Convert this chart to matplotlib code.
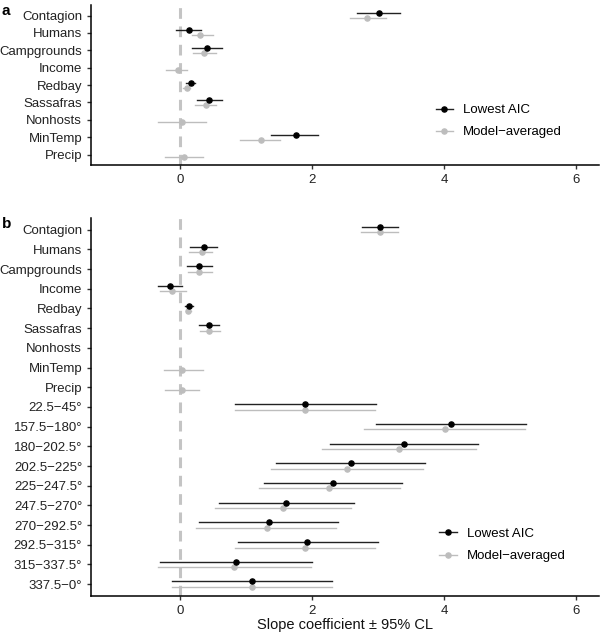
import numpy as np
import matplotlib
matplotlib.use('Agg')
import matplotlib.pyplot as plt
from matplotlib.lines import Line2D

plt.rcParams['font.family'] = ['Liberation Sans', 'DejaVu Sans']

nan = np.nan

# panel a: covariates only
vars_a = ['Contagion', 'Humans', 'Campgrounds', 'Income', 'Redbay',
          'Sassafras', 'Nonhosts', 'MinTemp', 'Precip']
aic_a = [3.01, 0.13, 0.40, nan, 0.16, 0.44, nan, 1.75, nan]
aic_a_lo = [2.68, -0.07, 0.18, nan, 0.09, 0.25, nan, 1.38, nan]
aic_a_hi = [3.34, 0.32, 0.63, nan, 0.23, 0.64, nan, 2.09, nan]
avg_a = [2.84, 0.30, 0.36, -0.035, 0.10, 0.39, 0.025, 1.22, 0.065]
avg_a_lo = [2.58, 0.18, 0.20, -0.22, 0.05, 0.23, -0.34, 0.91, -0.23]
avg_a_hi = [3.12, 0.50, 0.55, 0.10, 0.15, 0.54, 0.39, 1.52, 0.35]

# panel b: covariates plus wind direction sectors
vars_b = vars_a + ['22.5−45°', '157.5−180°', '180−202.5°', '202.5−225°',
                   '225−247.5°', '247.5−270°', '270−292.5°', '292.5−315°',
                   '315−337.5°', '337.5−0°']
aic_b = [3.03, 0.36, 0.29, -0.16, 0.14, 0.44, nan, nan, nan,
         1.90, 4.11, 3.40, 2.59, 2.32, 1.61, 1.34, 1.93, 0.85, 1.09]
aic_b_lo = [2.76, 0.15, 0.10, -0.34, 0.075, 0.28, nan, nan, nan,
            0.83, 2.97, 2.27, 1.46, 1.27, 0.59, 0.29, 0.87, -0.30, -0.12]
aic_b_hi = [3.31, 0.56, 0.48, 0.03, 0.19, 0.59, nan, nan, nan,
            2.97, 5.24, 4.52, 3.72, 3.37, 2.63, 2.40, 3.00, 2.00, 2.30]
avg_b = [3.03, 0.33, 0.29, -0.12, 0.125, 0.44, nan, 0.025, 0.025,
         1.90, 4.01, 3.32, 2.53, 2.25, 1.56, 1.31, 1.89, 0.82, 1.09]
avg_b_lo = [2.75, 0.13, 0.12, -0.31, 0.09, 0.30, nan, -0.25, -0.23,
            0.83, 2.79, 2.15, 1.38, 1.19, 0.53, 0.24, 0.83, -0.34, -0.12]
avg_b_hi = [3.31, 0.48, 0.48, 0.09, 0.17, 0.60, nan, 0.35, 0.29,
            2.96, 5.23, 4.49, 3.69, 3.33, 2.59, 2.37, 2.95, 1.99, 2.31]

BLACK = '#000000'
BLACK_LINE = '#222222'
GREY = '#bdbdbd'
MS = 3.7


def draw_panel(ax, labels, est1, lo1, hi1, est2, lo2, hi2, legend_xy):
    n = len(labels)
    y = np.arange(n)
    dodge = 0.14
    ax.axvline(0, color='#c4c4c4', lw=2.2, ls=(0, (3.5, 2.5)), zorder=0)
    for yy, e, l, h in zip(y + dodge, est2, lo2, hi2):
        if not np.isnan(e):
            ax.plot([l, h], [yy, yy], color=GREY, lw=1.0, zorder=1)
            ax.plot(e, yy, 'o', color=GREY, ms=MS, zorder=2)
    for yy, e, l, h in zip(y - dodge, est1, lo1, hi1):
        if not np.isnan(e):
            ax.plot([l, h], [yy, yy], color=BLACK_LINE, lw=1.0, zorder=3)
            ax.plot(e, yy, 'o', color=BLACK, ms=MS, zorder=4)
    ax.set_yticks(y)
    ax.set_yticklabels(labels)
    ax.set_ylim(n - 1 + 0.6, -0.6)
    ax.set_xlim(-1.35, 6.35)
    ax.set_xticks([0, 2, 4, 6])
    for s in ['top', 'right']:
        ax.spines[s].set_visible(False)
    for s in ['left', 'bottom']:
        ax.spines[s].set_linewidth(1.1)
    ax.tick_params(axis='both', labelsize=9.5, length=3, width=1.0,
                   colors='#333333', labelcolor='#222222')
    handles = [Line2D([], [], color=BLACK_LINE, lw=1.0, marker='o', ms=MS,
                      mfc=BLACK, mec=BLACK),
               Line2D([], [], color=GREY, lw=1.0, marker='o', ms=MS,
                      mfc=GREY, mec=GREY)]
    ax.legend(handles, ['Lowest AIC', 'Model−averaged'], frameon=False,
              loc='center left', bbox_to_anchor=legend_xy, fontsize=9.5,
              handlelength=1.35, handletextpad=0.75, labelspacing=0.75)


fig = plt.figure(figsize=(6.0, 6.35), dpi=100)
ax_a = fig.add_axes([0.152, 0.740, 0.846, 0.252])
ax_b = fig.add_axes([0.152, 0.0614, 0.846, 0.5956])

draw_panel(ax_a, vars_a, aic_a, aic_a_lo, aic_a_hi,
           avg_a, avg_a_lo, avg_a_hi, (0.655, 0.275))
draw_panel(ax_b, vars_b, aic_b, aic_b_lo, aic_b_hi,
           avg_b, avg_b_lo, avg_b_hi, (0.662, 0.135))

ax_b.set_xlabel('Slope coefficient ± 95% CL', fontsize=10.5, color='#111111',
                labelpad=1)

fig.text(0.003, 0.983, 'a', fontsize=11, fontweight='bold', va='center')
fig.text(0.003, 0.648, 'b', fontsize=11, fontweight='bold', va='center')

fig.savefig('out.png', dpi=100)
